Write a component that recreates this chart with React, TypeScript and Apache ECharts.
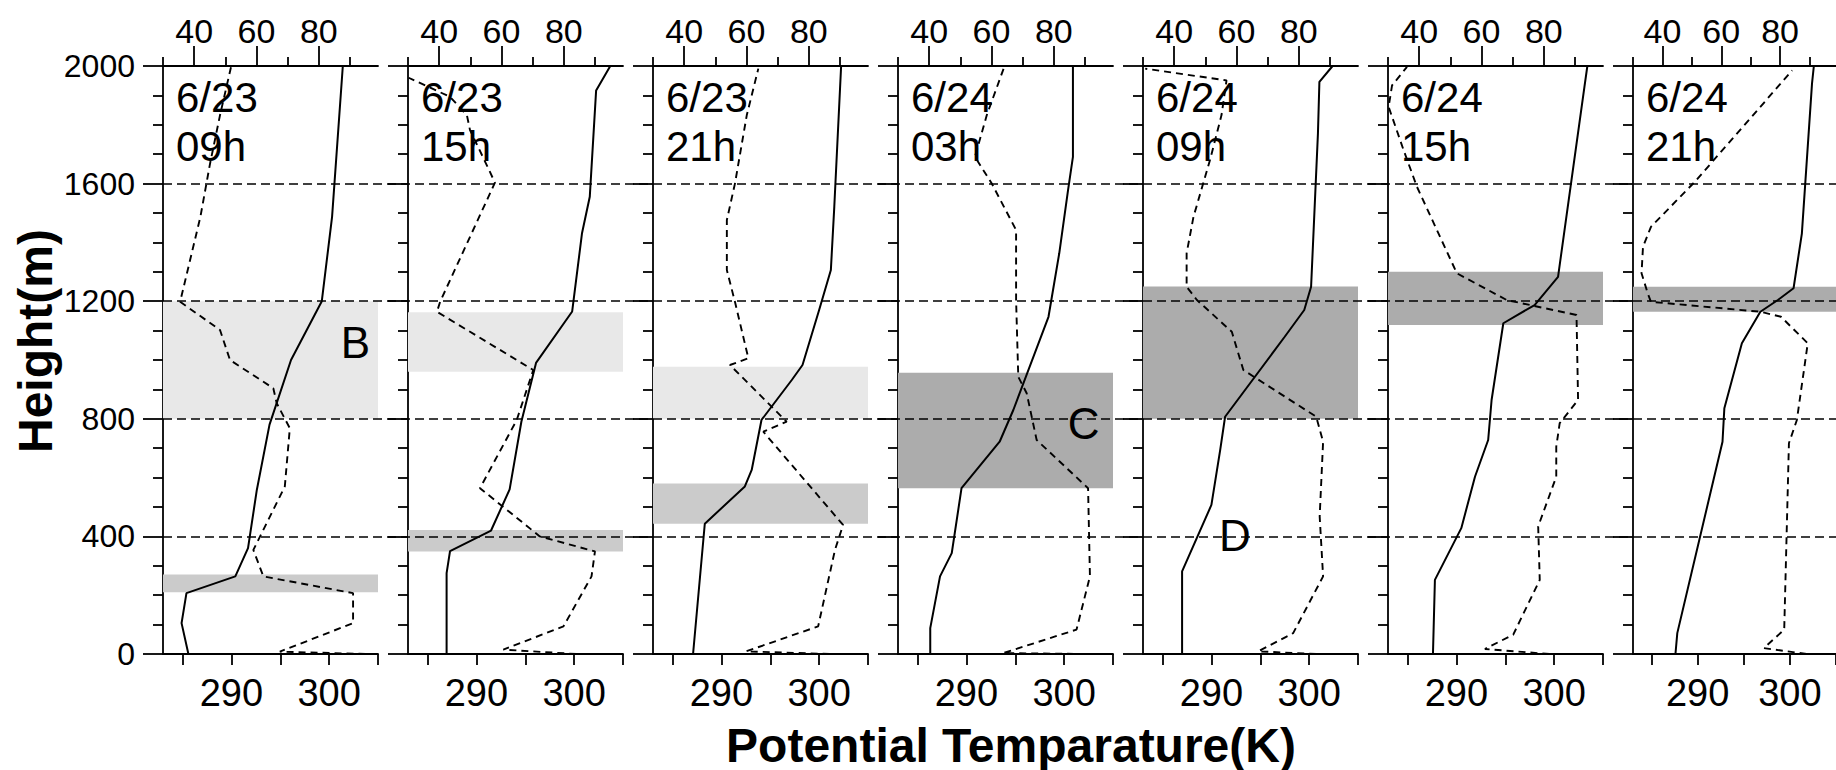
import React, { useEffect, useRef } from "react";
import * as echarts from "echarts";

// ---------- data ----------
const panelDates = ["6/23", "6/23", "6/23", "6/24", "6/24", "6/24", "6/24"];
const panelHours = ["09h", "15h", "21h", "03h", "09h", "15h", "21h"];

// potential temperature (K), height (m)
const theta_0623_09 = [[285.6, 0], [284.9, 105], [285.4, 207], [290.4, 264], [291.7, 360], [292.6, 558], [293.9, 780], [296.1, 1000], [299.25, 1200], [300.3, 1487], [301.4, 2000]];
const theta_0623_15 = [[286.95, 0], [286.95, 275], [287.3, 350], [291.5, 420], [293.4, 560], [294.6, 790], [296.1, 990], [299.8, 1165], [300.8, 1430], [301.6, 1555], [302.25, 1917], [303.7, 2000]];
const theta_0623_21 = [[287.1, 0], [288.3, 443], [292.4, 570], [293.1, 626], [294.1, 796], [297.2, 932], [298.3, 983], [300.0, 1170], [301.2, 1306], [301.55, 1521], [302.25, 2000]];
const theta_0624_03 = [[286.3, 0], [286.3, 88], [287.3, 264], [288.5, 343], [289.5, 564], [293.4, 722], [294.8, 830], [295.45, 887], [298.4, 1147], [299.5, 1363], [300.4, 1578], [300.9, 1691], [300.9, 2000]];
const theta_0624_09 = [[287.0, 0], [287.0, 281], [290.0, 507], [290.9, 694], [291.4, 807], [297.5, 1079], [299.5, 1170], [300.2, 1249], [300.9, 1770], [301.05, 1946], [302.4, 2000]];
const theta_0624_15 = [[287.6, 0], [287.8, 252], [290.5, 428], [291.9, 603], [293.25, 728], [293.6, 864], [294.8, 1125], [298.0, 1187], [300.4, 1283], [303.1, 1929], [303.4, 2000]];
const theta_0624_21 = [[287.6, 0], [287.8, 71], [292.7, 722], [292.9, 836], [294.8, 1057], [296.8, 1164], [298.7, 1204], [300.4, 1244], [301.3, 1430], [302.4, 1940], [302.6, 2000]];

// top-axis quantity (%), height (m)
const rh_0623_09 = [[95, 0], [67.5, 8], [91, 105], [91, 207], [62.2, 264], [59, 354], [69.1, 570], [70.7, 768], [66.5, 853], [65.4, 904], [51.5, 1000], [48.3, 1102], [35.5, 1198], [42, 1487], [45.1, 1668], [48.3, 1833], [51.9, 2000]];
const rh_0623_15 = [[84, 0], [60.6, 15], [79.9, 94], [88.9, 264], [90, 349], [72.3, 400], [53.1, 564], [64.9, 796], [70.2, 966], [39.3, 1164], [40.3, 1198], [57.9, 1603], [56.3, 1640], [49.9, 1782], [48.9, 1833], [43.5, 1895], [30.2, 1960]];
const rh_0623_21 = [[86.7, 0], [59.9, 9], [83, 94], [88.4, 354], [91, 439], [65.4, 756], [72.9, 790], [54.7, 983], [60.6, 1006], [56.3, 1198], [53.7, 1306], [53.7, 1476], [56.3, 1600], [60.1, 1833], [63.8, 1991]];
const rh_0624_03 = [[90.4, 0], [63.8, 3], [87.3, 83], [91.6, 264], [91, 564], [74.5, 728], [71.3, 887], [68.6, 943], [67.9, 1204], [67.9, 1442], [60.1, 1600], [54.7, 1691], [58.5, 1833], [64.1, 1997]];
const rh_0624_09 = [[85.6, 0], [67, 9], [78.2, 71], [87.8, 264], [86.7, 468], [87.8, 722], [85.6, 807], [62.2, 966], [58.5, 1096], [47.3, 1204], [44, 1249], [44, 1363], [46.2, 1487], [51.5, 1680], [55.2, 1833], [56.8, 1951], [30.7, 1991]];
const rh_0624_15 = [[81.8, 0], [61.1, 17], [70.2, 66], [78.7, 252], [78.2, 434], [84, 603], [84, 705], [85.1, 785], [91, 864], [90.5, 1153], [68.1, 1204], [52.1, 1295], [39.3, 1589], [35, 1714], [30.2, 1861], [31.3, 1934], [36.1, 1997]];
const rh_0624_21 = [[89, 0], [74.5, 20], [81.4, 83], [83, 717], [85.7, 796], [87.3, 909], [89.4, 1057], [80.3, 1147], [73.4, 1164], [36.1, 1198], [35, 1227], [32.9, 1295], [33.4, 1385], [36.1, 1453], [51, 1606], [84.1, 1985]];

// shaded layers: [bottom (m), top (m), shade]
const layers_0623_09 = [[800, 1200, "light"], [210, 270, "medium"]];
const layers_0623_15 = [[960, 1162, "light"], [349, 422, "medium"]];
const layers_0623_21 = [[800, 977, "light"], [443, 580, "medium"]];
const layers_0624_03 = [[564, 957, "dark"]];
const layers_0624_09 = [[800, 1250, "dark"]];
const layers_0624_15 = [[1119, 1300, "dark"]];
const layers_0624_21 = [[1164, 1249, "dark"]];

// annotation letters: [panel, theta (K), height (m), text]
const letterMarks = [[0, 305.8, 249, "A"], [0, 302.7, 1058, "B"], [3, 302.0, 785, "C"], [4, 292.4, 402, "D"]];

const thetaTicks = [285, 290, 295, 300, 305];
const thetaTickLabels = [290, 300];
const rhMinorTicks = [30, 50, 70, 90];
const rhMajorTicks = [40, 60, 80];
const heightInterval = 400;

const thetaList = [theta_0623_09, theta_0623_15, theta_0623_21, theta_0624_03, theta_0624_09, theta_0624_15, theta_0624_21];
const rhList = [rh_0623_09, rh_0623_15, rh_0623_21, rh_0624_03, rh_0624_09, rh_0624_15, rh_0624_21];
const layerList = [layers_0623_09, layers_0623_15, layers_0623_21, layers_0624_03, layers_0624_09, layers_0624_15, layers_0624_21];

// ---------- layout / style ----------
const W = 1836;
const H = 770;
const P_LEFT = 163;
const P_STEP = 245;
const P_W = 215;
const P_TOP = 66;
const P_H = 588;
const shadeColor: Record<string, string> = { light: "#e8e8e8", medium: "#cbcbcb", dark: "#acacac" };
const ink = "#000";
const axLine = { color: ink, width: 1.8 };
const tickFont = "'Liberation Sans', Arial, sans-serif";

const richLabel = (fontSize: number, fontFamily: string) => ({
  formatter: (v: number) => "{t|" + String(v) + "}",
  rich: { t: { fontSize, fontFamily, color: ink, lineHeight: fontSize } },
  fontSize,
  fontFamily,
  color: ink,
});

function buildOption() {
  const grid: any[] = [];
  const xAxis: any[] = [];
  const yAxis: any[] = [];
  const series: any[] = [];
  const graphic: any[] = [];

  for (let i = 0; i < 7; i++) {
    const left = P_LEFT + P_STEP * i;
    grid.push({ left, top: P_TOP, width: P_W, height: P_H });
    xAxis.push({
      gridIndex: i, type: "value", position: "bottom", min: 283, max: 305,
      axisLine: { show: true, onZero: false, lineStyle: axLine },
      axisTick: { show: true, customValues: thetaTicks, length: 11, lineStyle: axLine },
      axisLabel: { show: true, customValues: thetaTickLabels, margin: 20, ...richLabel(38, tickFont) },
      splitLine: { show: false },
    });
    xAxis.push({
      gridIndex: i, type: "value", position: "top", min: 30, max: 99,
      axisLine: { show: true, onZero: false, lineStyle: axLine },
      axisTick: { show: true, customValues: rhMinorTicks, length: 9, lineStyle: axLine },
      axisLabel: { show: false },
      splitLine: { show: false },
    });
    xAxis.push({
      gridIndex: i, type: "value", position: "top", min: 30, max: 99,
      axisLine: { show: false, onZero: false },
      axisTick: { show: true, customValues: rhMajorTicks, length: 20, lineStyle: axLine },
      axisLabel: { show: true, customValues: rhMajorTicks, margin: 18, ...richLabel(34, tickFont) },
      splitLine: { show: false },
    });
    yAxis.push({
      gridIndex: i, type: "value", min: 0, max: 2000, interval: heightInterval,
      axisLine: { show: true, onZero: false, lineStyle: axLine },
      axisTick: { show: true, length: 20, lineStyle: axLine },
      minorTick: { show: true, splitNumber: 4, length: 10, lineStyle: axLine },
      axisLabel: i === 0
        ? { show: true, margin: 28, ...richLabel(32, tickFont) }
        : { show: false },
      splitLine: { show: false },
      minorSplitLine: { show: false },
    });

    const marks = letterMarks.filter((m) => m[0] === i).map((m) => ({
      coord: [m[1], m[2]],
      label: { formatter: String(m[3]) },
    }));

    series.push({
      type: "line", xAxisIndex: 3 * i, yAxisIndex: i, data: thetaList[i],
      showSymbol: false, symbol: "none", silent: true,
      lineStyle: { color: ink, width: 2 },
      markArea: {
        silent: true,
        data: layerList[i].map((b) => [
          { yAxis: b[0], itemStyle: { color: shadeColor[b[2] as string] } },
          { yAxis: b[1] },
        ]),
      },
      markPoint: marks.length ? {
        silent: true, symbol: "rect", symbolSize: 1,
        itemStyle: { color: "rgba(0,0,0,0)" },
        label: { show: true, position: "inside", color: ink, fontSize: 44, fontFamily: tickFont },
        data: marks,
      } : undefined,
    });
    series.push({
      type: "line", xAxisIndex: 3 * i + 2, yAxisIndex: i, data: rhList[i],
      showSymbol: false, symbol: "none", silent: true,
      lineStyle: { color: ink, width: 1.9, type: [7, 5] },
    });

    graphic.push({
      type: "text", x: left + 13, y: 97,
      style: { text: panelDates[i], font: "42px 'Liberation Sans'", verticalAlign: "middle", fill: ink },
    });
    graphic.push({
      type: "text", x: left + 13, y: 146,
      style: { text: panelHours[i], font: "42px 'Liberation Sans'", verticalAlign: "middle", fill: ink },
    });
  }

  // background grid for the dashed reference lines across all panels
  grid.push({ left: P_LEFT, top: P_TOP, right: 0, height: P_H });
  xAxis.push({ gridIndex: 7, type: "value", min: 0, max: 1, show: false });
  yAxis.push({
    gridIndex: 7, type: "value", min: 0, max: 2000, interval: heightInterval, z: 5,
    axisLine: { show: false }, axisTick: { show: false }, axisLabel: { show: false },
    splitLine: { show: true, showMinLine: false, showMaxLine: false, lineStyle: { color: ink, width: 1.5, type: [9, 5] } },
  });

  graphic.push({
    type: "text", x: 35, y: 341, rotation: Math.PI / 2,
    style: { text: "Height(m)", font: "bold 48px 'Liberation Sans'", align: "center", verticalAlign: "middle", fill: ink },
  });
  graphic.push({
    type: "text", x: 1011, y: 745,
    style: { text: "Potential Temparature(K)", font: "bold 48px 'Liberation Sans'", align: "center", verticalAlign: "middle", fill: ink },
  });

  return {
    animation: false,
    backgroundColor: "#fff",
    grid, xAxis, yAxis, series, graphic,
  };
}

export default function App() {
  const ref = useRef<HTMLDivElement>(null);
  useEffect(() => {
    if (!ref.current) return;
    const chart = echarts.init(ref.current, undefined, { renderer: "svg" });
    chart.setOption(buildOption() as any);
    return () => chart.dispose();
  }, []);
  return <div ref={ref} style={{ position: "fixed", left: 0, top: 0, width: W, height: H }} />;
}
